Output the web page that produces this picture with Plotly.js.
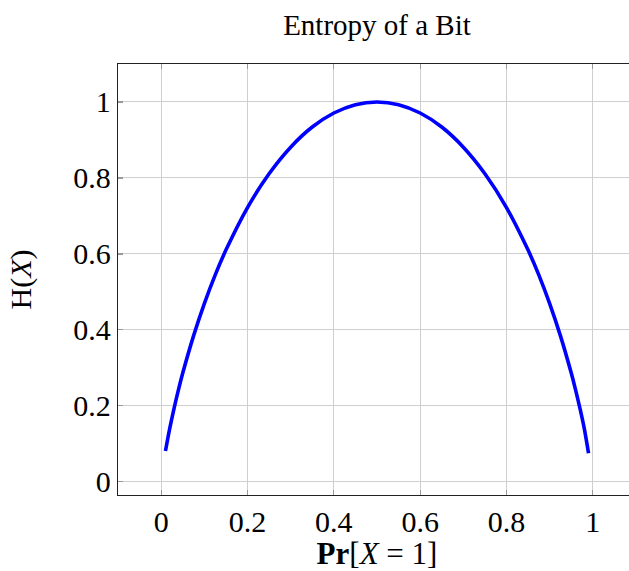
<!DOCTYPE html>
<html><head><meta charset="utf-8">
<script src="https://cdn.plot.ly/plotly-3.0.1.min.js"></script>
<style>html,body{margin:0;padding:0;overflow:hidden;background:#fff;width:629px;height:571px}</style>
</head><body><div id="chart"></div>
<script>
const p = [0.01,0.02,0.03,0.04,0.05,0.075,0.1,0.125,0.15,0.2,0.25,0.3,0.35,0.4,0.45,0.5,0.55,0.6,0.65,0.7,0.75,0.8,0.85,0.875,0.9,0.925,0.95,0.96,0.97,0.98,0.99];
const H = [0.081,0.141,0.194,0.242,0.286,0.384,0.469,0.544,0.610,0.722,0.811,0.881,0.934,0.971,0.993,1.0,0.993,0.971,0.934,0.881,0.811,0.722,0.610,0.544,0.469,0.384,0.286,0.242,0.194,0.141,0.075];
const xTicks = [0,0.2,0.4,0.6,0.8,1];
const yTicks = [0,0.2,0.4,0.6,0.8,1];
const font = "'Liberation Serif', 'DejaVu Serif', serif";
Plotly.newPlot('chart', [{
  x: p, y: H, type: 'scatter', mode: 'lines',
  line: {color: '#0000ff', width: 3.6, shape: 'spline'}, hoverinfo: 'skip'
}], {
  width: 640, height: 571,
  margin: {l: 117.5, r: 4, t: 64, b: 76},
  paper_bgcolor: '#fff', plot_bgcolor: '#fff',
  showlegend: false,
  font: {family: font, color: '#000', size: 21},
  title: {text: 'Entropy of a Bit', font: {family: font, size: 29}, xref: 'paper', x: 0.5, xanchor: 'center', y: 0.957, yanchor: 'middle'},
  xaxis: {
    range: [-0.1, 1.1], tickvals: xTicks, ticktext: xTicks.map(String),
    showgrid: true, gridcolor: '#cfcfcf', gridwidth: 1, zeroline: false,
    showline: true, linecolor: '#222', linewidth: 1.3, mirror: 'allticks',
    ticks: 'inside', ticklen: 5, tickcolor: '#999', tickwidth: 1.3,
    tickfont: {family: font, size: 30},
    title: {text: '<b>Pr</b>[<i>X</i> = 1]', font: {family: font, size: 31}, standoff: 8}
  },
  yaxis: {
    range: [-0.035, 1.1], tickvals: yTicks, ticktext: yTicks.map(String),
    showgrid: true, gridcolor: '#cfcfcf', gridwidth: 1, zeroline: false,
    showline: true, linecolor: '#222', linewidth: 1.3, mirror: 'allticks',
    ticks: 'inside', ticklen: 5, tickcolor: '#999', tickwidth: 1.3,
    tickfont: {family: font, size: 30},
    title: {text: 'H(<i>X</i>)', font: {family: font, size: 30}, standoff: 32}
  }
}, {displayModeBar: false, staticPlot: true});
</script></body></html>
